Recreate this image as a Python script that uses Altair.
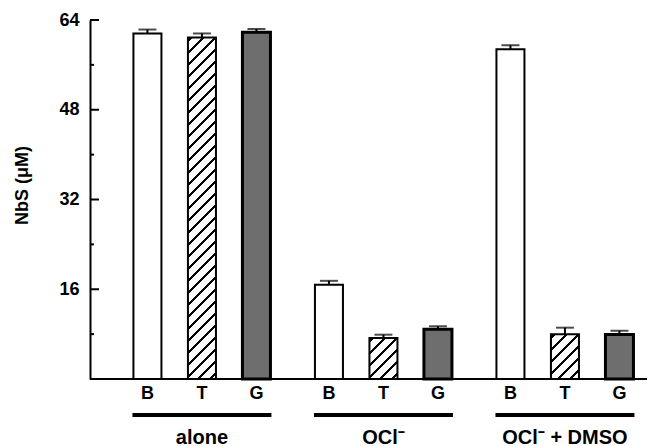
import altair as alt
import pandas as pd

# ---- data ----
groups = ["alone", "OCl⁻", "OCl⁻ + DMSO"]
types = ["B", "T", "G"]
alone_vals = [61.6, 60.9, 61.8]
ocl_vals = [16.8, 7.3, 8.85]
dmso_vals = [58.8, 8.0, 7.95]
alone_err = [0.7, 0.7, 0.6]
ocl_err = [0.7, 0.6, 0.55]
dmso_err = [0.7, 1.15, 0.65]
y_major = [16, 32, 48, 64]
y_minor = [8, 24, 40, 56]

rows = []
for g, vals, errs in zip(groups, [alone_vals, ocl_vals, dmso_vals],
                         [alone_err, ocl_err, dmso_err]):
    for t, v, e in zip(types, vals, errs):
        rows.append({"group": g, "type": t, "value": v, "top": v + e})
df = pd.DataFrame(rows)
gdf = pd.DataFrame({"group": groups})
major_df = pd.DataFrame({"value": y_major})
minor_df = pd.DataFrame({"value": y_minor})

PLOT_W, PLOT_H = 557, 359
BAR_W = 28.0


def hatch(v):
    """Diagonal hatch drawn as a striped linear gradient for one bar."""
    w = BAR_W
    h = v * PLOT_H / 64.0
    L = w + h
    c = L / (w * w + h * h)
    stops = [{"offset": 0, "color": "white"}]
    s = 2.0
    while s < L:
        a = s / L
        b = min((s + 3.0) / L, 1.0)
        stops += [{"offset": a, "color": "white"},
                  {"offset": a, "color": "black"},
                  {"offset": b, "color": "black"},
                  {"offset": b, "color": "white"}]
        s += 12.0
    stops.append({"offset": 1, "color": "white"})
    return {"gradient": "linear", "x1": 0, "y1": 0,
            "x2": w * c, "y2": h * c, "stops": stops}


xscale = alt.Scale(domain=groups, paddingInner=0.0992, paddingOuter=0.084,
                   align=0.99, round=False)
xoff = alt.Scale(domain=types, paddingInner=0.486, paddingOuter=0.243, round=False)
yscale = alt.Scale(domain=[0, 64], nice=False, zero=True)

FONT = "Liberation Sans"
yaxis = alt.Axis(values=y_major, ticks=False, grid=False, domain=True,
                 domainColor="black", domainWidth=2, labelColor="black",
                 labelFont=FONT, labelFontWeight="bold", labelFontSize=18,
                 labelPadding=11, labelOverlap=False,
                 title="NbS (μM)", titleFont=FONT, titleFontWeight="bold",
                 titleFontSize=18, titleColor="black", titleAngle=270,
                 titleAlign="center", titleBaseline="middle",
                 titleX=-68, titleY=165)


def X():
    return alt.X("group:N", scale=xscale, axis=None, sort=groups)


def XO():
    return alt.XOffset("type:N", scale=xoff, sort=types)


def Y(field="value"):
    return alt.Y(f"{field}:Q", scale=yscale, axis=yaxis)


base = alt.Chart(df)

bars_b = base.transform_filter("datum.type == 'B'").mark_bar(
    fill="white", stroke="black", strokeWidth=2
).encode(x=X(), xOffset=XO(), y=Y())

bars_g = base.transform_filter("datum.type == 'G'").mark_bar(
    fill="#6e6e6e", stroke="black", strokeWidth=3
).encode(x=X(), xOffset=XO(), y=Y())

hatch_layers = []
for g, vals in zip(groups, [alone_vals, ocl_vals, dmso_vals]):
    v = vals[types.index("T")]
    hatch_layers.append(
        base.transform_filter(
            alt.FieldEqualPredicate(field="group", equal=g)
        ).transform_filter("datum.type == 'T'").mark_bar(
            fill=hatch(v), stroke="black", strokeWidth=2
        ).encode(x=X(), xOffset=XO(), y=Y())
    )

stems = base.mark_rule(color="black", strokeWidth=2).encode(
    x=X(), xOffset=XO(), y=Y(), y2="top:Q")

caps = base.mark_tick(color="black", thickness=2, size=18).encode(
    x=X(), xOffset=XO(), y=Y("top"))

type_labels = base.mark_text(font=FONT, fontWeight="bold", fontSize=18,
                             baseline="middle", color="black").encode(
    x=X(), xOffset=XO(), y=alt.value(373.5), text="type:N")

underline = alt.Chart(gdf).mark_bar(color="black", width={"band": 0.85}).encode(
    x=X(), y=alt.value(393), y2=alt.value(397))

group_labels = alt.Chart(gdf).mark_text(font=FONT, fontWeight="bold", fontSize=20,
                                        baseline="middle", color="black").encode(
    x=X(), y=alt.value(417.5), text="group:N")

baseline = alt.Chart(gdf).mark_rule(color="black", strokeWidth=2).encode(
    x=alt.value(0), x2=alt.value(565), y=alt.value(PLOT_H))

ticks_major = alt.Chart(major_df).mark_rule(color="black", strokeWidth=2).encode(
    y=Y(), x=alt.value(0), x2=alt.value(9))
ticks_minor = alt.Chart(minor_df).mark_rule(color="black", strokeWidth=2).encode(
    y=Y(), x=alt.value(0), x2=alt.value(4))

chart = alt.layer(
    bars_b, *hatch_layers, bars_g, stems, caps, type_labels, underline,
    group_labels, baseline, ticks_major, ticks_minor
).properties(
    width=PLOT_W, height=PLOT_H,
    autosize=alt.AutoSizeParams(type="none"),
    padding={"left": 82, "top": 12, "right": 0, "bottom": 80},
    background="white",
).configure_view(stroke=None)

chart.save("out.html", embed_options={"renderer": "svg", "actions": False})
